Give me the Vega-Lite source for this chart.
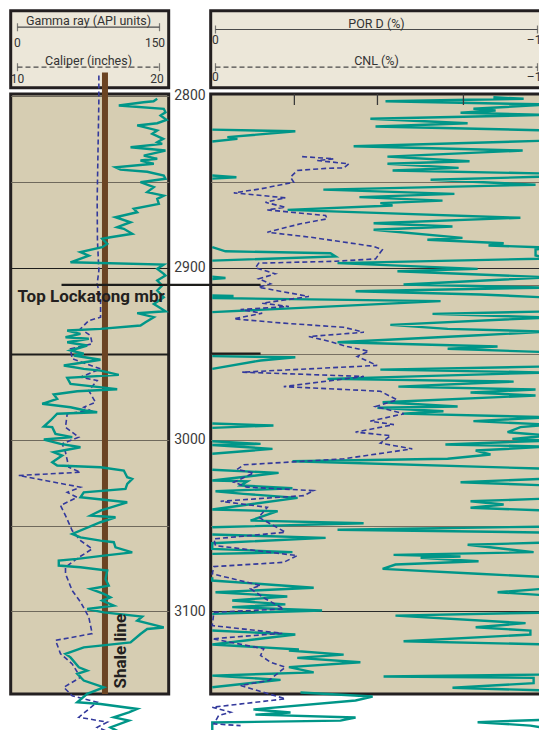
{
"$schema": "https://vega.github.io/schema/vega-lite/v6.json",
"autosize": {"type": "pad", "resize": false},
"padding": {"left": 8.7, "top": 8.7, "right": 0, "bottom": 0},
"background": "white",
"config": {"font": "Roboto", "text": {"font": "Roboto"}, "view": {"stroke": null}},
"datasets": {
"hGR": [{"api": 0, "slot": 1, "label": "0"}, {"api": 150, "slot": 1, "label": "150"}],
"hGRt": [{"api": 75, "slot": 1, "title": "Gamma ray (API units)"}],
"hCAL": [{"cal": 10, "slot": 2, "label": "10"}, {"cal": 20, "slot": 2, "label": "20"}],
"hCALt": [{"cal": 15, "slot": 2, "title": "Caliper (inches)"}],
"hPOR": [{"v": 0, "slot": 1, "label": "0"}, {"v": -10, "slot": 1, "label": "–10"}],
"hPORt": [{"v": -5, "slot": 1, "title": "POR D (%)"}],
"hCNL": [{"v": 0, "slot": 2, "label": "0"}, {"v": -10, "slot": 2, "label": "–10"}],
"hCNLt": [{"v": -5, "slot": 2, "title": "CNL (%)"}],
"shale": [{"api": 92.4, "top": 2786.5, "base": 3148, "label": "Shale line", "lx": 108.8, "ly": 3144.8}],
"tops": [{"name": "Top Lockatong mbr", "depth": 2910, "api": 46.5, "api2": 204.9, "lx": 0}],
"stubs": [{"depth": 2910, "lo": 0.15, "hi": -1.4}, {"depth": 2950, "lo": 0.15, "hi": -1.4}],
"rticks": [{"v": -2.45}, {"v": -5.03}, {"v": -7.7}],
"gr": [
{"depth":2801.8,"api":147.6},{"depth":2803.2,"api":143.7},{"depth":2803.8,"api":133.1},{"depth":2805.7,"api":107.0},{"depth":2807.6,"api":154.5},{"depth":2809.6,"api":156.3},{"depth":2811.5,"api":151.1},{"depth":2814.0,"api":157.4},{"depth":2816.0,"api":147.6},{"depth":2817.3,"api":126.4},{"depth":2820.2,"api":147.6},{"depth":2822.2,"api":142.3},{"depth":2825.1,"api":153.9},{"depth":2827.0,"api":147.6},{"depth":2828.0,"api":152.8},{"depth":2830.0,"api":119.4},{"depth":2831.9,"api":156.3},{"depth":2834.8,"api":133.4},{"depth":2836.7,"api":147.6},{"depth":2837.7,"api":129.9},{"depth":2839.6,"api":144.0},{"depth":2841.6,"api":103.5},{"depth":2843.0,"api":108.8},{"depth":2844.2,"api":137.0},{"depth":2846.4,"api":154.5},{"depth":2848.3,"api":156.3},{"depth":2850.3,"api":129.9},{"depth":2853.2,"api":144.0},{"depth":2856.1,"api":137.0},{"depth":2858.1,"api":154.5},{"depth":2860.0,"api":147.6},{"depth":2862.9,"api":149.3},{"depth":2865.8,"api":122.8},{"depth":2867.8,"api":126.4},{"depth":2870.7,"api":103.5},{"depth":2873.6,"api":119.4},{"depth":2876.5,"api":105.3},{"depth":2877.4,"api":112.3},{"depth":2880.3,"api":121.2},{"depth":2882.3,"api":98.2},{"depth":2883.2,"api":89.5},{"depth":2886.2,"api":94.8},{"depth":2888.1,"api":89.5},{"depth":2891.0,"api":66.5},{"depth":2893.0,"api":75.3},{"depth":2896.9,"api":56.0},{"depth":2898.2,"api":154.5},{"depth":2900.7,"api":147.6},{"depth":2903.6,"api":154.5},{"depth":2904.6,"api":156.3},{"depth":2907.5,"api":147.6},{"depth":2910.4,"api":152.8},{"depth":2913.3,"api":147.6},{"depth":2917.2,"api":154.5},{"depth":2921.1,"api":144.0},{"depth":2925.4,"api":156.3},{"depth":2926.5,"api":126.4},{"depth":2928.8,"api":144.0},{"depth":2931.8,"api":135.2},{"depth":2933.7,"api":129.9},{"depth":2935.6,"api":87.7},{"depth":2936.6,"api":52.5},{"depth":2938.5,"api":66.5},{"depth":2940.5,"api":50.7},{"depth":2941.4,"api":75.3},{"depth":2943.4,"api":52.5},{"depth":2945.3,"api":73.6},{"depth":2948.2,"api":56.0},{"depth":2950.1,"api":70.0},{"depth":2951.1,"api":59.5},{"depth":2953.6,"api":87.7},{"depth":2956.9,"api":48.9},{"depth":2958.9,"api":70.0},{"depth":2959.9,"api":87.7},{"depth":2962.4,"api":107.0},{"depth":2964.1,"api":52.5},{"depth":2967.6,"api":56.0},{"depth":2970.7,"api":105.3},{"depth":2971.9,"api":63.1},{"depth":2973.8,"api":38.3},{"depth":2976.3,"api":41.9},{"depth":2979.2,"api":26.1},{"depth":2981.2,"api":56.0},{"depth":2983.1,"api":71.8},{"depth":2984.1,"api":84.2},{"depth":2985.0,"api":41.9},{"depth":2988.9,"api":34.9},{"depth":2992.4,"api":27.8},{"depth":2992.8,"api":36.7},{"depth":2996.7,"api":40.1},{"depth":2998.6,"api":57.8},{"depth":3000.0,"api":27.8},{"depth":3002.5,"api":45.4},{"depth":3004.5,"api":66.5},{"depth":3007.4,"api":38.3},{"depth":3009.3,"api":47.2},{"depth":3013.2,"api":36.7},{"depth":3015.1,"api":41.9},{"depth":3016.1,"api":87.7},{"depth":3018.0,"api":112.3},{"depth":3021.9,"api":115.9},{"depth":3022.9,"api":121.2},{"depth":3025.8,"api":115.9},{"depth":3028.7,"api":114.1},{"depth":3030.7,"api":70.0},{"depth":3033.6,"api":66.5},{"depth":3036.5,"api":115.9},{"depth":3041.3,"api":87.7},{"depth":3044.2,"api":77.1},{"depth":3045.2,"api":103.5},{"depth":3048.1,"api":87.7},{"depth":3054.9,"api":57.8},{"depth":3056.9,"api":66.5},{"depth":3058.8,"api":87.7},{"depth":3059.7,"api":101.7},{"depth":3062.7,"api":103.5},{"depth":3065.6,"api":121.2},{"depth":3067.5,"api":91.2},{"depth":3069.4,"api":63.1},{"depth":3070.4,"api":43.6},{"depth":3073.3,"api":43.6},{"depth":3074.3,"api":66.5},{"depth":3076.2,"api":94.8},{"depth":3081.1,"api":93.0},{"depth":3085.0,"api":96.4},{"depth":3086.9,"api":77.1},{"depth":3089.8,"api":91.2},{"depth":3091.8,"api":98.2},{"depth":3093.7,"api":89.5},{"depth":3096.6,"api":101.7},{"depth":3098.6,"api":73.6},{"depth":3100.5,"api":91.2},{"depth":3103.0,"api":131.7},{"depth":3105.4,"api":126.4},{"depth":3109.3,"api":154.5},{"depth":3110.2,"api":137.0},{"depth":3113.1,"api":129.9},{"depth":3118.0,"api":119.4},{"depth":3119.9,"api":87.7},{"depth":3120.9,"api":70.0},{"depth":3124.7,"api":50.7},{"depth":3126.7,"api":56.0},{"depth":3132.5,"api":64.8},{"depth":3134.4,"api":73.6},{"depth":3136.3,"api":63.1},{"depth":3140.2,"api":70.0},{"depth":3144.1,"api":91.2},{"depth":3147.9,"api":73.6},{"depth":3152.8,"api":63.1},{"depth":3153.8,"api":87.7},{"depth":3156.7,"api":126.4},{"depth":3158.7,"api":117.6},{"depth":3161.6,"api":101.7},{"depth":3163.5,"api":117.6},{"depth":3167.4,"api":98.2},{"depth":3170.5,"api":108.8}
],
"cal": [
{"depth":2788.2,"cal":15.73},{"depth":2802.8,"cal":15.73},{"depth":2831.9,"cal":15.67},{"depth":2861.0,"cal":15.61},{"depth":2884.2,"cal":15.63},{"depth":2901.7,"cal":15.73},{"depth":2909.4,"cal":15.61},{"depth":2918.1,"cal":15.85},{"depth":2928.8,"cal":15.85},{"depth":2930.8,"cal":15.02},{"depth":2935.6,"cal":14.44},{"depth":2939.5,"cal":15.14},{"depth":2944.3,"cal":15.26},{"depth":2947.2,"cal":13.73},{"depth":2953.0,"cal":13.85},{"depth":2958.9,"cal":15.85},{"depth":2963.7,"cal":14.44},{"depth":2965.7,"cal":15.61},{"depth":2971.5,"cal":15.02},{"depth":2978.3,"cal":15.49},{"depth":2981.2,"cal":14.67},{"depth":2983.1,"cal":15.14},{"depth":2985.0,"cal":13.50},{"depth":2992.8,"cal":13.38},{"depth":2998.6,"cal":14.32},{"depth":3002.5,"cal":13.15},{"depth":3007.4,"cal":13.38},{"depth":3016.1,"cal":13.61},{"depth":3019.0,"cal":14.44},{"depth":3020.9,"cal":10.09},{"depth":3027.7,"cal":14.44},{"depth":3030.7,"cal":13.50},{"depth":3033.6,"cal":14.20},{"depth":3038.4,"cal":13.03},{"depth":3044.2,"cal":13.38},{"depth":3052.9,"cal":13.85},{"depth":3058.8,"cal":14.44},{"depth":3063.6,"cal":15.26},{"depth":3068.5,"cal":14.32},{"depth":3074.3,"cal":13.38},{"depth":3078.1,"cal":13.38},{"depth":3087.8,"cal":13.85},{"depth":3094.5,"cal":14.44},{"depth":3103.3,"cal":15.02},{"depth":3112.9,"cal":15.26},{"depth":3116.8,"cal":12.68},{"depth":3124.6,"cal":13.03},{"depth":3130.5,"cal":13.85},{"depth":3138.3,"cal":14.44},{"depth":3144.1,"cal":13.26},{"depth":3149.0,"cal":13.85},{"depth":3152.8,"cal":15.61},{"depth":3161.5,"cal":14.32},{"depth":3164.4,"cal":16.32},{"depth":3167.4,"cal":15.61},{"depth":3170.4,"cal":16.55}
],
"por": [
{"seg":"m","depth":2800.9,"por":-8.63},{"seg":"m","depth":2801.8,"por":-9.57},{"seg":"m","depth":2803.2,"por":-5.28},{"seg":"m","depth":2805.1,"por":-10.34},{"seg":"m","depth":2807.6,"por":-8.01},{"seg":"m","depth":2808.6,"por":-8.70},{"seg":"m","depth":2809.9,"por":-7.61},{"seg":"m","depth":2811.2,"por":-10.34},{"seg":"m","depth":2813.4,"por":-4.81},{"seg":"m","depth":2816.0,"por":-7.83},{"seg":"m","depth":2817.9,"por":-4.97},{"seg":"m","depth":2820.2,"por":-10.34},{"seg":"m","depth":2826.1,"por":-10.34},{"seg":"m","depth":2829.4,"por":-4.29},{"seg":"m","depth":2831.9,"por":-9.54},{"seg":"m","depth":2835.4,"por":-5.34},{"seg":"m","depth":2838.1,"por":-7.89},{"seg":"m","depth":2839.6,"por":-5.34},{"seg":"m","depth":2842.0,"por":-7.55},{"seg":"m","depth":2843.5,"por":-5.50},{"seg":"m","depth":2845.3,"por":-10.34},{"seg":"m","depth":2847.0,"por":-10.34},{"seg":"m","depth":2848.9,"por":-6.68},{"seg":"m","depth":2851.8,"por":-9.94},{"seg":"m","depth":2854.6,"por":-3.35},{"seg":"m","depth":2857.1,"por":-7.42},{"seg":"m","depth":2859.0,"por":-4.47},{"seg":"m","depth":2861.0,"por":-7.05},{"seg":"m","depth":2862.5,"por":-5.12},{"seg":"m","depth":2863.9,"por":-5.50},{"seg":"m","depth":2866.4,"por":-2.24},{"seg":"m","depth":2868.3,"por":-5.22},{"seg":"m","depth":2871.0,"por":-9.47},{"seg":"m","depth":2874.2,"por":-4.91},{"seg":"m","depth":2876.1,"por":-7.36},{"seg":"m","depth":2878.0,"por":-4.91},{"seg":"m","depth":2882.7,"por":-7.67},{"seg":"m","depth":2883.8,"por":-6.58},{"seg":"m","depth":2885.8,"por":-8.95},{"seg":"m","depth":2887.1,"por":-8.48},{"seg":"m","depth":2888.3,"por":-10.34},{"seg":"m","depth":2889.5,"por":-9.94},{"seg":"m","depth":2892.9,"por":-9.94},{"seg":"m","depth":2894.7,"por":-10.34},{"seg":"m","depth":2897.4,"por":-3.79},{"seg":"m","depth":2900.7,"por":-8.14},{"seg":"m","depth":2902.1,"por":-5.65},{"seg":"m","depth":2905.6,"por":-10.34},{"seg":"m","depth":2909.8,"por":-5.84},{"seg":"m","depth":2911.6,"por":-10.34},{"seg":"m","depth":2913.7,"por":-4.35},{"seg":"m","depth":2915.6,"por":-8.23},{"seg":"m","depth":2917.4,"por":-10.34},{"seg":"m","depth":2925.5,"por":-10.34},{"seg":"m","depth":2926.9,"por":-6.74},{"seg":"m","depth":2929.0,"por":-10.34},{"seg":"m","depth":2933.3,"por":-5.43},{"seg":"m","depth":2935.6,"por":-7.21},{"seg":"m","depth":2937.2,"por":-10.34},{"seg":"m","depth":2939.5,"por":-8.01},{"seg":"m","depth":2943.4,"por":-3.79},{"seg":"m","depth":2945.9,"por":-8.76},{"seg":"m","depth":2947.2,"por":-7.21},{"seg":"m","depth":2949.2,"por":-10.34},{"seg":"m","depth":2957.5,"por":-10.34},{"seg":"m","depth":2959.3,"por":-5.12},{"seg":"m","depth":2961.0,"por":-10.34},{"seg":"m","depth":2964.7,"por":-3.48},{"seg":"m","depth":2966.3,"por":-9.26},{"seg":"m","depth":2969.2,"por":-5.68},{"seg":"m","depth":2970.9,"por":-9.94},{"seg":"m","depth":2972.6,"por":-7.92},{"seg":"m","depth":2974.4,"por":-9.94},{"seg":"m","depth":2978.3,"por":-5.19},{"seg":"m","depth":2980.8,"por":-7.52},{"seg":"m","depth":2981.5,"por":-5.03},{"seg":"m","depth":2983.5,"por":-7.08},{"seg":"m","depth":2984.9,"por":-5.81},{"seg":"m","depth":2987.0,"por":-10.34},{"seg":"m","depth":2989.3,"por":-8.01},{"seg":"m","depth":2991.3,"por":-10.34},{"seg":"m","depth":2992.8,"por":-9.47},{"seg":"m","depth":2995.7,"por":-9.07},{"seg":"m","depth":2997.7,"por":-10.34},{"seg":"m","depth":2999.6,"por":-9.22},{"seg":"m","depth":3000.6,"por":-10.34},{"seg":"m","depth":3002.9,"por":-7.14},{"seg":"m","depth":3004.1,"por":-10.34},{"seg":"m","depth":3006.4,"por":-8.08},{"seg":"m","depth":3008.7,"por":-8.54},{"seg":"m","depth":3011.2,"por":-7.21},{"seg":"m","depth":3012.6,"por":-2.39},{"seg":"m","depth":3017.0,"por":-10.34},{"seg":"m","depth":3022.7,"por":-10.34},{"seg":"m","depth":3024.8,"por":-7.61},{"seg":"m","depth":3026.7,"por":-10.34},{"seg":"m","depth":3034.3,"por":-10.34},{"seg":"m","depth":3035.9,"por":-7.92},{"seg":"m","depth":3037.8,"por":-8.95},{"seg":"m","depth":3039.7,"por":-7.92},{"seg":"m","depth":3041.3,"por":-10.34},{"seg":"m","depth":3050.6,"por":-10.34},{"seg":"m","depth":3052.5,"por":-3.79},{"seg":"m","depth":3054.1,"por":-10.34},{"seg":"m","depth":3059.9,"por":-10.34},{"seg":"m","depth":3061.2,"por":-7.83},{"seg":"m","depth":3065.5,"por":-9.88},{"seg":"m","depth":3067.1,"por":-5.53},{"seg":"m","depth":3068.0,"por":-7.61},{"seg":"m","depth":3068.8,"por":-6.37},{"seg":"m","depth":3070.8,"por":-8.17},{"seg":"m","depth":3072.7,"por":-5.59},{"seg":"m","depth":3075.2,"por":-5.19},{"seg":"m","depth":3078.1,"por":-8.14},{"seg":"m","depth":3080.1,"por":-10.34},{"seg":"m","depth":3086.6,"por":-10.34},{"seg":"m","depth":3088.8,"por":-8.76},{"seg":"m","depth":3090.7,"por":-10.34},{"seg":"m","depth":3100.6,"por":-10.34},{"seg":"m","depth":3102.4,"por":-5.59},{"seg":"m","depth":3106.8,"por":-9.63},{"seg":"m","depth":3109.2,"por":-8.08},{"seg":"m","depth":3111.1,"por":-9.78},{"seg":"m","depth":3113.4,"por":-9.78},{"seg":"m","depth":3117.3,"por":-5.84},{"seg":"m","depth":3119.2,"por":-10.34},{"seg":"m","depth":3136.7,"por":-10.34},{"seg":"m","depth":3137.8,"por":-5.22},{"seg":"m","depth":3138.6,"por":-9.88},{"seg":"m","depth":3141.7,"por":-9.88},{"seg":"m","depth":3144.4,"por":-7.36},{"seg":"m","depth":3146.0,"por":-10.34},{"seg":"m","depth":3162.9,"por":-10.34},{"seg":"m","depth":3164.4,"por":-8.14},{"seg":"m","depth":3166.4,"por":-9.78},{"seg":"m","depth":3168.1,"por":-10.34},
{"seg":"b1","depth":2819.7,"por":0.1},{"seg":"b1","depth":2820.7,"por":-2.48},{"seg":"b1","depth":2824.1,"por":-0.37},{"seg":"b1","depth":2825.1,"por":-0.68},{"seg":"b1","depth":2826.6,"por":0.1},
{"seg":"b2","depth":2846.4,"por":0.1},{"seg":"b2","depth":2847.4,"por":-0.65},{"seg":"b2","depth":2848.2,"por":0.1},
{"seg":"b3","depth":2888.1,"por":0.1},{"seg":"b3","depth":2890.5,"por":-0.31},{"seg":"b3","depth":2891.6,"por":-3.57},{"seg":"b3","depth":2893.5,"por":-3.73},{"seg":"b3","depth":2895.9,"por":0.1},
{"seg":"b4","depth":2905.2,"por":0.1},{"seg":"b4","depth":2906.0,"por":-0.31},{"seg":"b4","depth":2906.6,"por":0.1},
{"seg":"b5","depth":2916.2,"por":0.1},{"seg":"b5","depth":2916.5,"por":-0.56},{"seg":"b5","depth":2917.7,"por":0.1},{"seg":"b5","depth":2919.5,"por":-6.99},{"seg":"b5","depth":2925.9,"por":0.1},
{"seg":"b6","depth":2951.5,"por":0.1},{"seg":"b6","depth":2952.1,"por":-2.48},{"seg":"b6","depth":2954.0,"por":-1.40},{"seg":"b6","depth":2958.9,"por":0.1},
{"seg":"b7","depth":2990.7,"por":0.1},{"seg":"b7","depth":2991.8,"por":-1.80},{"seg":"b7","depth":2993.2,"por":0.1},
{"seg":"b8","depth":3001.0,"por":0.1},{"seg":"b8","depth":3002.5,"por":-1.40},{"seg":"b8","depth":3003.2,"por":0.1},{"seg":"b8","depth":3005.4,"por":-1.77},{"seg":"b8","depth":3008.3,"por":0.1},
{"seg":"b9","depth":3017.6,"por":0.1},{"seg":"b9","depth":3019.4,"por":-1.96},{"seg":"b9","depth":3023.8,"por":0.1},{"seg":"b9","depth":3024.3,"por":-0.99},{"seg":"b9","depth":3026.7,"por":-0.78},{"seg":"b9","depth":3028.3,"por":-2.39},{"seg":"b9","depth":3030.1,"por":0.0},{"seg":"b9","depth":3031.6,"por":-0.87},{"seg":"b9","depth":3033.9,"por":-2.55},{"seg":"b9","depth":3040.7,"por":0.1},{"seg":"b9","depth":3041.7,"por":-1.93},{"seg":"b9","depth":3047.1,"por":-1.09},{"seg":"b9","depth":3048.7,"por":-4.60},{"seg":"b9","depth":3051.0,"por":0.1},
{"seg":"b10","depth":3055.2,"por":0.1},{"seg":"b10","depth":3057.2,"por":-3.42},{"seg":"b10","depth":3060.3,"por":0.1},{"seg":"b10","depth":3063.6,"por":0.1},{"seg":"b10","depth":3065.5,"por":-2.39},{"seg":"b10","depth":3066.5,"por":0.1},
{"seg":"b11","depth":3080.1,"por":0.1},{"seg":"b11","depth":3082.0,"por":0.1},{"seg":"b11","depth":3086.2,"por":-3.05},{"seg":"b11","depth":3088.8,"por":0.0},{"seg":"b11","depth":3091.3,"por":-2.23},{"seg":"b11","depth":3093.6,"por":-0.52},{"seg":"b11","depth":3095.9,"por":-2.17},{"seg":"b11","depth":3097.5,"por":-0.52},{"seg":"b11","depth":3099.4,"por":-3.31},{"seg":"b11","depth":3101.4,"por":0.1},
{"seg":"b12","depth":3111.1,"por":0.1},{"seg":"b12","depth":3113.4,"por":-2.48},{"seg":"b12","depth":3119.2,"por":0.1},{"seg":"b12","depth":3122.1,"por":-2.59},{"seg":"b12","depth":3122.7,"por":-2.28},{"seg":"b12","depth":3125.1,"por":-3.98},{"seg":"b12","depth":3127.0,"por":-2.54},{"seg":"b12","depth":3129.5,"por":-4.50},{"seg":"b12","depth":3132.4,"por":-2.28},{"seg":"b12","depth":3135.4,"por":-3.05},{"seg":"b12","depth":3137.3,"por":0.1},{"seg":"b12","depth":3139.8,"por":-2.02},{"seg":"b12","depth":3144.1,"por":0.1},
{"seg":"b13","depth":3147.1,"por":-2.64},{"seg":"b13","depth":3149.5,"por":-4.88},{"seg":"b13","depth":3151.8,"por":-4.35},{"seg":"b13","depth":3157.0,"por":-1.18},{"seg":"b13","depth":3158.8,"por":-2.33},{"seg":"b13","depth":3160.0,"por":-1.24},{"seg":"b13","depth":3161.7,"por":-4.35},{"seg":"b13","depth":3163.5,"por":-3.88},{"seg":"b13","depth":3164.6,"por":0.1},{"seg":"b13","depth":3170.4,"por":0.1}
],
"cnl": [
{"depth":2835.4,"cnl":-2.69},{"depth":2836.7,"cnl":-3.67},{"depth":2837.7,"cnl":-3.16},{"depth":2839.6,"cnl":-4.14},{"depth":2842.0,"cnl":-3.98},{"depth":2842.2,"cnl":-3.47},{"depth":2843.5,"cnl":-2.54},{"depth":2847.4,"cnl":-2.33},{"depth":2850.3,"cnl":-2.43},{"depth":2854.2,"cnl":-1.40},{"depth":2856.5,"cnl":-0.57},{"depth":2859.4,"cnl":-2.17},{"depth":2862.0,"cnl":-1.55},{"depth":2864.9,"cnl":-2.17},{"depth":2866.4,"cnl":-1.61},{"depth":2869.7,"cnl":-3.42},{"depth":2871.6,"cnl":-3.47},{"depth":2874.5,"cnl":-2.64},{"depth":2879.4,"cnl":-1.61},{"depth":2882.3,"cnl":-2.95},{"depth":2887.7,"cnl":-4.92},{"depth":2889.6,"cnl":-5.18},{"depth":2894.9,"cnl":-4.97},{"depth":2896.3,"cnl":-3.73},{"depth":2897.4,"cnl":-1.34},{"depth":2900.1,"cnl":-1.24},{"depth":2903.6,"cnl":-1.86},{"depth":2906.5,"cnl":-1.34},{"depth":2909.4,"cnl":-1.71},{"depth":2911.4,"cnl":-1.34},{"depth":2916.8,"cnl":-2.90},{"depth":2920.7,"cnl":-1.45},{"depth":2922.6,"cnl":-2.28},{"depth":2924.4,"cnl":-0.78},{"depth":2926.5,"cnl":-1.45},{"depth":2929.8,"cnl":-0.57},{"depth":2932.3,"cnl":-2.12},{"depth":2934.7,"cnl":-3.98},{"depth":2937.6,"cnl":-4.61},{"depth":2940.1,"cnl":-2.90},{"depth":2942.8,"cnl":-3.52},{"depth":2945.9,"cnl":-4.09},{"depth":2948.6,"cnl":-4.76},{"depth":2951.7,"cnl":-4.40},{"depth":2956.9,"cnl":-5.02},{"depth":2960.8,"cnl":-0.83},{"depth":2963.3,"cnl":-4.61},{"depth":2969.2,"cnl":-2.12},{"depth":2971.9,"cnl":-5.12},{"depth":2976.9,"cnl":-5.64},{"depth":2980.8,"cnl":-4.97},{"depth":2985.0,"cnl":-5.85},{"depth":2989.3,"cnl":-4.81},{"depth":2991.3,"cnl":-5.54},{"depth":2995.7,"cnl":-4.35},{"depth":2997.7,"cnl":-5.44},{"depth":3002.1,"cnl":-5.12},{"depth":3005.4,"cnl":-6.11},{"depth":3011.2,"cnl":-3.98},{"depth":3014.7,"cnl":-0.88},{"depth":3017.4,"cnl":-0.67},{"depth":3019.4,"cnl":-1.19},{"depth":3024.8,"cnl":-0.57},{"depth":3027.7,"cnl":-0.98},{"depth":3029.7,"cnl":-3.05},{"depth":3032.6,"cnl":-2.74},{"depth":3035.9,"cnl":-0.16},{"depth":3039.4,"cnl":-1.61},{"depth":3045.2,"cnl":-1.34},{"depth":3053.9,"cnl":-2.17},{"depth":3057.8,"cnl":0.05},{"depth":3061.7,"cnl":0.0},{"depth":3067.5,"cnl":-2.54},{"depth":3071.4,"cnl":-2.12},{"depth":3073.9,"cnl":0.05},{"depth":3078.1,"cnl":0.1},{"depth":3081.6,"cnl":-0.67},{"depth":3084.9,"cnl":-1.40},{"depth":3086.8,"cnl":-1.09},{"depth":3092.6,"cnl":-1.55},{"depth":3098.5,"cnl":-2.12},{"depth":3100.5,"cnl":0.05},{"depth":3108.2,"cnl":0.1},{"depth":3112.7,"cnl":-2.07},{"depth":3115.9,"cnl":0.1},{"depth":3121.7,"cnl":-1.50},{"depth":3125.6,"cnl":-1.40},{"depth":3129.5,"cnl":-1.71},{"depth":3132.4,"cnl":-2.17},{"depth":3140.1,"cnl":-1.66},{"depth":3143.1,"cnl":-0.78},{"depth":3150.8,"cnl":-2.17},{"depth":3155.7,"cnl":0.1},{"depth":3158.6,"cnl":-0.47},{"depth":3160.5,"cnl":-0.10},{"depth":3165.4,"cnl":0.05},{"depth":3166.4,"cnl":-0.78}
]
},
"bounds": "flush",
"columns": 2,
"spacing": {"row": 6.3, "column": 42},
"resolve": {"scale": {"x": "independent", "y": "independent"}},
"concat": [
{
"width": 158, "height": 77,
"view": {"fill": "#ece7d9", "stroke": "#231f20", "strokeWidth": 3},
"resolve": {"scale": {"x": "independent"}},
"layer": [
{"data": {"name": "hGR"}, "mark": {"type": "line", "color": "#4a4a4a", "strokeWidth": 1.2},
 "encoding": {"x": {"field": "api", "type": "quantitative", "scale": {"domain": [-7.18, 159.7], "nice": false, "zero": false}, "axis": null},
  "y": {"field": "slot", "type": "quantitative", "scale": {"domain": [0.5875, 2.5125], "reverse": true, "nice": false, "zero": false}, "axis": null}}},
{"data": {"name": "hGR"}, "mark": {"type": "tick", "orient": "vertical", "color": "#4a4a4a", "size": 8, "thickness": 1.2},
 "encoding": {"x": {"field": "api", "type": "quantitative", "scale": {"domain": [-7.18, 159.7], "nice": false, "zero": false}, "axis": null},
  "y": {"field": "slot", "type": "quantitative"}}},
{"data": {"name": "hGR"}, "transform": [{"filter": "datum.api === 0"}], "mark": {"type": "text", "fontSize": 12, "color": "#333333", "baseline": "middle", "dy": 16},
 "encoding": {"x": {"field": "api", "type": "quantitative", "scale": {"domain": [-7.18, 159.7], "nice": false, "zero": false}, "axis": null},
  "y": {"field": "slot", "type": "quantitative"}, "text": {"field": "label"}}},
{"data": {"name": "hGR"}, "transform": [{"filter": "datum.api === 150"}], "mark": {"type": "text", "fontSize": 12, "color": "#333333", "baseline": "middle", "dy": 16, "dx": -4.5},
 "encoding": {"x": {"field": "api", "type": "quantitative", "scale": {"domain": [-7.18, 159.7], "nice": false, "zero": false}, "axis": null},
  "y": {"field": "slot", "type": "quantitative"}, "text": {"field": "label"}}},
{"data": {"name": "hGRt"}, "mark": {"type": "text", "fontSize": 12.5, "color": "#333333", "baseline": "alphabetic", "dy": -2},
 "encoding": {"x": {"field": "api", "type": "quantitative", "scale": {"domain": [-7.18, 159.7], "nice": false, "zero": false}, "axis": null},
  "y": {"field": "slot", "type": "quantitative"}, "text": {"field": "title"}}},
{"data": {"name": "hCAL"}, "mark": {"type": "line", "color": "#4a4a4a", "strokeWidth": 1.2, "strokeDash": [5, 3]},
 "encoding": {"x": {"field": "cal", "type": "quantitative", "scale": {"domain": [9.521, 20.648], "nice": false, "zero": false}, "axis": null},
  "y": {"field": "slot", "type": "quantitative"}}},
{"data": {"name": "hCAL"}, "mark": {"type": "tick", "orient": "vertical", "color": "#4a4a4a", "size": 8, "thickness": 1.2},
 "encoding": {"x": {"field": "cal", "type": "quantitative", "scale": {"domain": [9.521, 20.648], "nice": false, "zero": false}, "axis": null},
  "y": {"field": "slot", "type": "quantitative"}}},
{"data": {"name": "hCAL"}, "transform": [{"filter": "datum.cal === 10"}], "mark": {"type": "text", "fontSize": 12, "color": "#333333", "baseline": "middle", "dy": 11.5},
 "encoding": {"x": {"field": "cal", "type": "quantitative", "scale": {"domain": [9.521, 20.648], "nice": false, "zero": false}, "axis": null},
  "y": {"field": "slot", "type": "quantitative"}, "text": {"field": "label"}}},
{"data": {"name": "hCAL"}, "transform": [{"filter": "datum.cal === 20"}], "mark": {"type": "text", "fontSize": 12, "color": "#333333", "baseline": "middle", "dy": 11.5, "dx": -2.5},
 "encoding": {"x": {"field": "cal", "type": "quantitative", "scale": {"domain": [9.521, 20.648], "nice": false, "zero": false}, "axis": null},
  "y": {"field": "slot", "type": "quantitative"}, "text": {"field": "label"}}},
{"data": {"name": "hCALt"}, "mark": {"type": "text", "fontSize": 12.5, "color": "#333333", "baseline": "alphabetic", "dy": -2},
 "encoding": {"x": {"field": "cal", "type": "quantitative", "scale": {"domain": [9.521, 20.648], "nice": false, "zero": false}, "axis": null},
  "y": {"field": "slot", "type": "quantitative"}, "text": {"field": "title"}}}
]
},
{
"width": 340, "height": 77,
"view": {"fill": "#ece7d9", "stroke": "#231f20", "strokeWidth": 3},
"layer": [
{"data": {"name": "hPOR"}, "mark": {"type": "line", "color": "#4a4a4a", "strokeWidth": 1.2},
 "encoding": {"x": {"field": "v", "type": "quantitative", "scale": {"domain": [0.149, -10.41], "nice": false, "zero": false}, "axis": null},
  "y": {"field": "slot", "type": "quantitative", "scale": {"domain": [0.5013, 2.5438], "reverse": true, "nice": false, "zero": false}, "axis": null}}},
{"data": {"name": "hPOR"}, "mark": {"type": "tick", "orient": "vertical", "color": "#4a4a4a", "size": 8, "thickness": 1.2},
 "encoding": {"x": {"field": "v", "type": "quantitative"}, "y": {"field": "slot", "type": "quantitative"}}},
{"data": {"name": "hPOR"}, "mark": {"type": "text", "fontSize": 12, "color": "#333333", "baseline": "middle", "dy": 10.5},
 "encoding": {"x": {"field": "v", "type": "quantitative"}, "y": {"field": "slot", "type": "quantitative"}, "text": {"field": "label"}}},
{"data": {"name": "hPORt"}, "mark": {"type": "text", "fontSize": 12.5, "color": "#333333", "baseline": "alphabetic", "dy": -2},
 "encoding": {"x": {"field": "v", "type": "quantitative"}, "y": {"field": "slot", "type": "quantitative"}, "text": {"field": "title"}}},
{"data": {"name": "hCNL"}, "mark": {"type": "line", "color": "#4a4a4a", "strokeWidth": 1.2, "strokeDash": [5, 3]},
 "encoding": {"x": {"field": "v", "type": "quantitative"}, "y": {"field": "slot", "type": "quantitative"}}},
{"data": {"name": "hCNL"}, "mark": {"type": "tick", "orient": "vertical", "color": "#4a4a4a", "size": 8, "thickness": 1.2},
 "encoding": {"x": {"field": "v", "type": "quantitative"}, "y": {"field": "slot", "type": "quantitative"}}},
{"data": {"name": "hCNL"}, "mark": {"type": "text", "fontSize": 12, "color": "#333333", "baseline": "middle", "dy": 10},
 "encoding": {"x": {"field": "v", "type": "quantitative"}, "y": {"field": "slot", "type": "quantitative"}, "text": {"field": "label"}}},
{"data": {"name": "hCNLt"}, "mark": {"type": "text", "fontSize": 12.5, "color": "#333333", "baseline": "alphabetic", "dy": -2},
 "encoding": {"x": {"field": "v", "type": "quantitative"}, "y": {"field": "slot", "type": "quantitative"}, "text": {"field": "title"}}}
]
},
{
"width": 158, "height": 600,
"view": {"fill": "#d6cdb2", "stroke": "#231f20", "strokeWidth": 3},
"resolve": {"scale": {"x": "independent"}},
"layer": [
{"data": {"name": "shale"}, "mark": {"type": "rule", "color": "#6b4423", "strokeWidth": 6, "clip": false},
 "encoding": {"x": {"field": "api", "type": "quantitative", "scale": {"domain": [-7.18, 159.7], "nice": false, "zero": false}, "axis": null},
  "y": {"field": "top", "type": "quantitative", "scale": {"domain": [2799, 3148], "reverse": true, "nice": false, "zero": false},
   "axis": {"orient": "right", "values": [2800, 2850, 2900, 2950, 3000, 3050, 3100], "format": "d", "labelExpr": "datum.value % 100 === 0 ? datum.label : ''", "domain": false, "ticks": false, "labelPadding": 5, "labelFontSize": 14, "labelFont": "Roboto", "labelColor": "#3a3a3a", "labelOverlap": false, "title": null, "grid": true,
    "gridColor": {"condition": {"test": "datum.value === 2900 || datum.value === 2950", "value": "#1d1d1b"}, "value": "#6f695c"},
    "gridWidth": {"condition": {"test": "datum.value === 2950", "value": 2.2}, "value": 1.1}}},
  "y2": {"field": "base"}}},
{"data": {"name": "cal"}, "mark": {"type": "line", "color": "#33399c", "strokeWidth": 1.6, "strokeDash": [5, 3], "clip": false},
 "encoding": {"x": {"field": "cal", "type": "quantitative", "scale": {"domain": [9.521, 20.648], "nice": false, "zero": false}, "axis": null},
  "y": {"field": "depth", "type": "quantitative"}, "order": {"field": "depth", "type": "quantitative"}}},
{"data": {"name": "gr"}, "mark": {"type": "line", "color": "#009688", "strokeWidth": 2.4, "clip": false},
 "encoding": {"x": {"field": "api", "type": "quantitative", "scale": {"domain": [-7.18, 159.7], "nice": false, "zero": false}, "axis": null},
  "y": {"field": "depth", "type": "quantitative"}, "order": {"field": "depth", "type": "quantitative"}}},
{"data": {"name": "tops"}, "mark": {"type": "rule", "color": "#1d1d1b", "strokeWidth": 2.2, "clip": false},
 "encoding": {"x": {"field": "api", "type": "quantitative", "scale": {"domain": [-7.18, 159.7], "nice": false, "zero": false}, "axis": null},
  "x2": {"field": "api2"}, "y": {"field": "depth", "type": "quantitative"}}},
{"data": {"name": "tops"}, "mark": {"type": "text", "fontSize": 17, "fontWeight": "bold", "color": "#231f20", "align": "left", "baseline": "alphabetic", "dy": 17.5, "clip": false},
 "encoding": {"x": {"field": "lx", "type": "quantitative", "scale": {"domain": [-7.18, 159.7], "nice": false, "zero": false}, "axis": null},
  "y": {"field": "depth", "type": "quantitative"}, "text": {"field": "name"}}},
{"data": {"name": "shale"}, "mark": {"type": "text", "fontSize": 17, "fontWeight": "bold", "color": "#231f20", "align": "left", "baseline": "middle", "angle": 270},
 "encoding": {"x": {"field": "lx", "type": "quantitative", "scale": {"domain": [-7.18, 159.7], "nice": false, "zero": false}, "axis": null},
  "y": {"field": "ly", "type": "quantitative"}, "text": {"field": "label"}}}
]
},
{
"width": 340, "height": 600,
"view": {"fill": "#d6cdb2", "stroke": "#231f20", "strokeWidth": 3},
"layer": [
{"data": {"name": "por"}, "mark": {"type": "line", "color": "#009688", "strokeWidth": 2.4, "clip": false},
 "encoding": {"x": {"field": "por", "type": "quantitative", "scale": {"domain": [0.149, -10.41], "nice": false, "zero": false}, "axis": null},
  "y": {"field": "depth", "type": "quantitative", "scale": {"domain": [2799, 3148], "reverse": true, "nice": false, "zero": false},
   "axis": {"orient": "left", "values": [2850, 2900, 2910, 2950, 3000, 3050, 3100], "labels": false, "domain": false, "ticks": false, "title": null, "grid": true,
    "gridColor": {"condition": {"test": "datum.value === 2900 || datum.value === 3100", "value": "#2b2b2b"}, "value": "#787062"}, "gridWidth": 1.2}},
  "detail": {"field": "seg", "type": "nominal"}, "order": {"field": "depth", "type": "quantitative"}}},
{"data": {"name": "cnl"}, "mark": {"type": "line", "color": "#33399c", "strokeWidth": 1.6, "strokeDash": [5, 3], "clip": false},
 "encoding": {"x": {"field": "cnl", "type": "quantitative"}, "y": {"field": "depth", "type": "quantitative"}, "order": {"field": "depth", "type": "quantitative"}}},
{"data": {"name": "stubs"}, "mark": {"type": "rule", "color": "#1d1d1b", "strokeWidth": 2.2},
 "encoding": {"x": {"field": "lo", "type": "quantitative"}, "x2": {"field": "hi"}, "y": {"field": "depth", "type": "quantitative"}}},
{"data": {"name": "rticks"}, "mark": {"type": "rule", "color": "#3a3a3a", "strokeWidth": 1.3},
 "encoding": {"x": {"field": "v", "type": "quantitative"}, "y": {"datum": 2799}, "y2": {"datum": 2805.4}}}
]
}
]
}
